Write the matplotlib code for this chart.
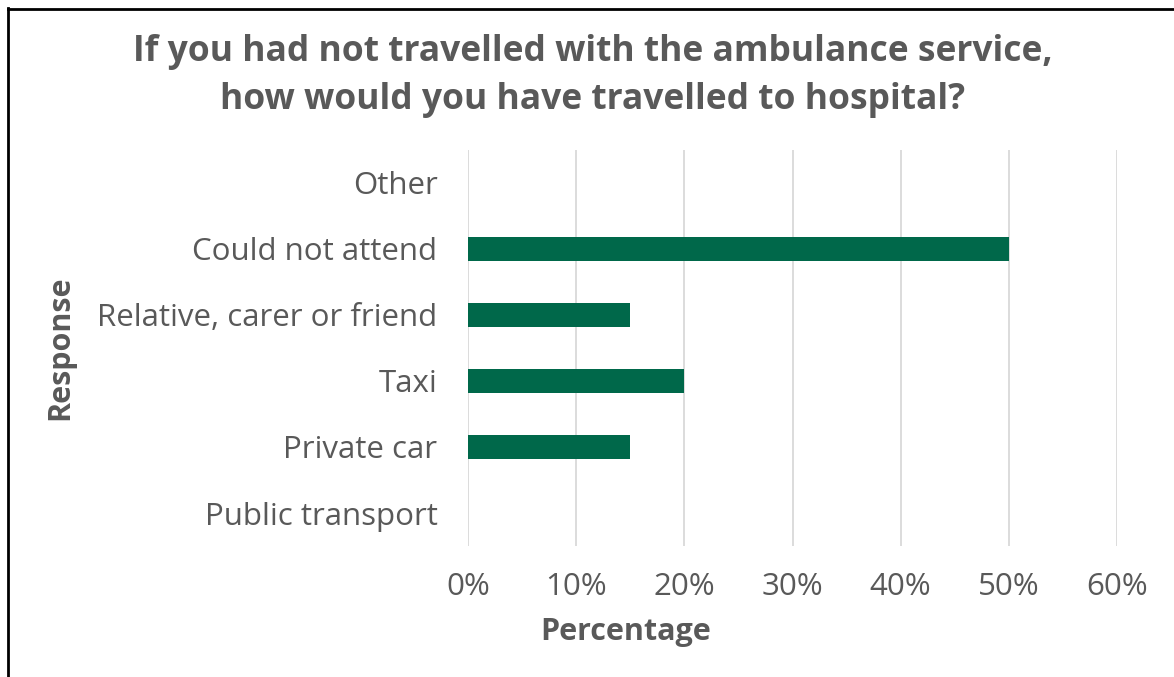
import matplotlib
matplotlib.use("Agg")
import matplotlib.pyplot as plt
from matplotlib.lines import Line2D
from matplotlib.ticker import PercentFormatter

categories = ["Public transport", "Private car", "Taxi", "Relative, carer or friend", "Could not attend", "Other"]
values = [0, 15, 20, 15, 50, 0]
xticks = [0, 10, 20, 30, 40, 50, 60]

plt.rcParams['font.family'] = ['Open Sans', 'DejaVu Sans']
text_color = '#595959'
bar_color = '#00684A'

fig = plt.figure(figsize=(11.74, 6.77), dpi=100)
ax = fig.add_axes([468/1174, 1-546/677, (1117-468)/1174, (546-150)/677])

ax.barh(categories, values, height=0.36, color=bar_color, zorder=2)
ax.set_xlim(0, 60)
ax.set_ylim(-0.5, len(categories)-0.5)
ax.set_xticks(xticks)
ax.xaxis.set_major_formatter(PercentFormatter(decimals=0))
ax.grid(axis='x', color='#d9d9d9', linewidth=1.3, zorder=0)
ax.set_axisbelow(True)
for s in ax.spines.values():
    s.set_visible(False)
ax.tick_params(axis='both', length=0, labelsize=22.5, colors=text_color)
ax.tick_params(axis='y', pad=22)
ax.tick_params(axis='x', pad=19)

ax.set_xlabel('Percentage', fontsize=22, fontweight='bold', color=text_color)
ax.xaxis.set_label_coords((626-468)/649, -0.18)
ax.set_ylabel('Response', fontsize=22, fontweight='bold', color=text_color)
ax.yaxis.set_label_coords(-(468-75)/649, 0.5)

fig.text(593/1174, 1-76/677, 'If you had not travelled with the ambulance service,\nhow would you have travelled to hospital?',
         ha='center', va='center', fontsize=25.5, fontweight='bold', color=text_color, linespacing=1.42)

fig.add_artist(Line2D([7.5/1174, 7.5/1174], [0, 1-8/677], color='black', linewidth=2, transform=fig.transFigure))
fig.add_artist(Line2D([7.5/1174, 1], [1-8.5/677, 1-8.5/677], color='black', linewidth=2, transform=fig.transFigure))

fig.savefig('out.png', dpi=100)
